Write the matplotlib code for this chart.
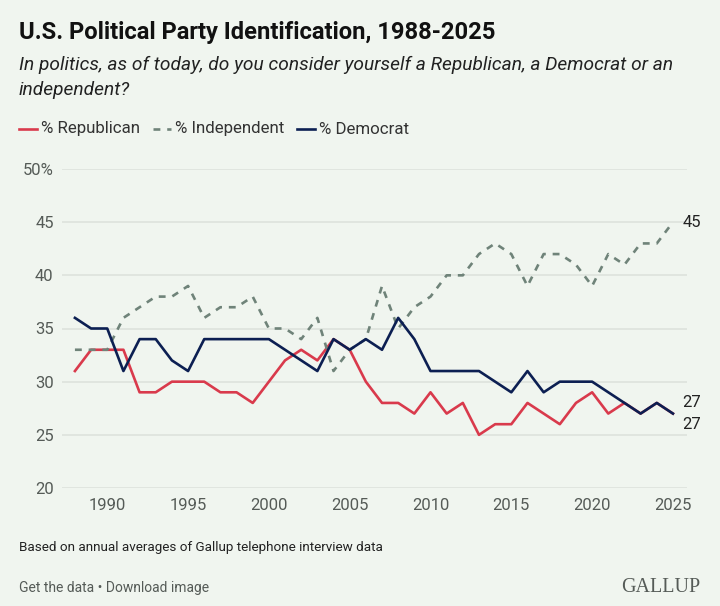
import matplotlib.pyplot as plt

BG = "#f0f5ef"
RED = "#d93a4c"
NAVY = "#0c1f52"
GREEN_GRAY = "#6f8379"
GRID = "#dde2dc"
TICK = "#555b57"

years = list(range(1988, 2026))

republican = [31, 33, 33, 33, 29, 29, 30, 30, 30, 29, 29, 28, 30, 32, 33, 32,
              34, 33, 30, 28, 28, 27, 29, 27, 28, 25, 26, 26, 28, 27, 26, 28,
              29, 27, 28, 27, 28, 27]
independent = [33, 33, 33, 36, 37, 38, 38, 39, 36, 37, 37, 38, 35, 35, 34, 36,
               31, 33, 34, 39, 35, 37, 38, 40, 40, 42, 43, 42, 39, 42, 42, 41,
               39, 42, 41, 43, 43, 45]
democrat = [36, 35, 35, 31, 34, 34, 32, 31, 34, 34, 34, 34, 34, 33, 32, 31,
            34, 33, 34, 33, 36, 34, 31, 31, 31, 31, 30, 29, 31, 29, 30, 30,
            30, 29, 28, 27, 28, 27]

x_ticks = [1990, 1995, 2000, 2005, 2010, 2015, 2020, 2025]
y_ticks = [20, 25, 30, 35, 40, 45, 50]
y_labels = ["20", "25", "30", "35", "40", "45", "50%"]

DASH = (0, (2.6, 2.6))

plt.rcParams["font.family"] = ["Roboto", "DejaVu Sans"]

fig = plt.figure(figsize=(7.2, 6.06), dpi=100, facecolor=BG)
ax = fig.add_axes([62 / 720, 1 - 488 / 606, 625 / 720, 319 / 606])
ax.set_facecolor(BG)

ax.plot(years, republican, color=RED, lw=1.9, clip_on=False, zorder=3)
ax.plot(years, independent, color=GREEN_GRAY, lw=1.9, ls=DASH,
        clip_on=False, zorder=3)
ax.plot(years, democrat, color=NAVY, lw=1.9, clip_on=False, zorder=4)

ax.set_xlim(1987.2, 2025.87)
ax.set_ylim(20, 50)
ax.set_xticks(x_ticks)
ax.set_yticks(y_ticks)
ax.set_yticklabels(y_labels)
ax.tick_params(length=0, labelsize=12, labelcolor=TICK)
ax.tick_params(axis="y", pad=6)
ax.tick_params(axis="x", pad=7)
ax.grid(axis="y", color=GRID, lw=1.2)
ax.grid(axis="x", visible=False)
for s in ax.spines.values():
    s.set_visible(False)

# end labels (red and blue both end at 27)
lab = dict(textcoords="offset points", va="center", ha="left", fontsize=12,
           color="#222222")
ax.annotate(str(independent[-1]), (years[-1], independent[-1]), xytext=(7, 0), **lab)
ax.annotate(str(republican[-1]), (years[-1], democrat[-1]), xytext=(7, 8), **lab)
ax.annotate(str(democrat[-1]), (years[-1], democrat[-1]), xytext=(7, -8), **lab)

# titles
fig.text(19 / 720, 1 - 33 / 606, "U.S. Political Party Identification, 1988-2025",
         fontsize=17.1, fontweight="bold", color="#111111", va="center")
fig.text(19 / 720, 1 - 65 / 606,
         "In politics, as of today, do you consider yourself a Republican, a Democrat or an",
         fontsize=13.8, style="italic", color="#222222", va="center")
fig.text(19 / 720, 1 - 90 / 606, "independent?",
         fontsize=13.8, style="italic", color="#222222", va="center")

# legend
leg_y = 1 - 129 / 606
items = [("% Republican", RED, "-", 19), ("% Independent", GREEN_GRAY, DASH, 153),
         ("% Democrat", NAVY, "-", 297)]
for label, col, ls, x0 in items:
    fig.add_artist(plt.Line2D([x0 / 720, (x0 + 18) / 720], [leg_y, leg_y],
                              color=col, lw=1.9, ls=ls))
    fig.text((x0 + 22) / 720, leg_y, label, fontsize=12.2, color="#333333",
             va="center")

# footer
fig.text(19 / 720, 1 - 548 / 606,
         "Based on annual averages of Gallup telephone interview data",
         fontsize=9.7, color="#222222", va="center")
fig.text(19 / 720, 1 - 588 / 606, "Get the data \u2022 Download image",
         fontsize=10, color="#555b57", va="center")
fig.text(700 / 720, 1 - 588 / 606, "GALLUP", fontsize=14.4, color="#555b57",
         family="Liberation Serif", ha="right", va="center")

fig.savefig("out.png", dpi=100, facecolor=BG)
